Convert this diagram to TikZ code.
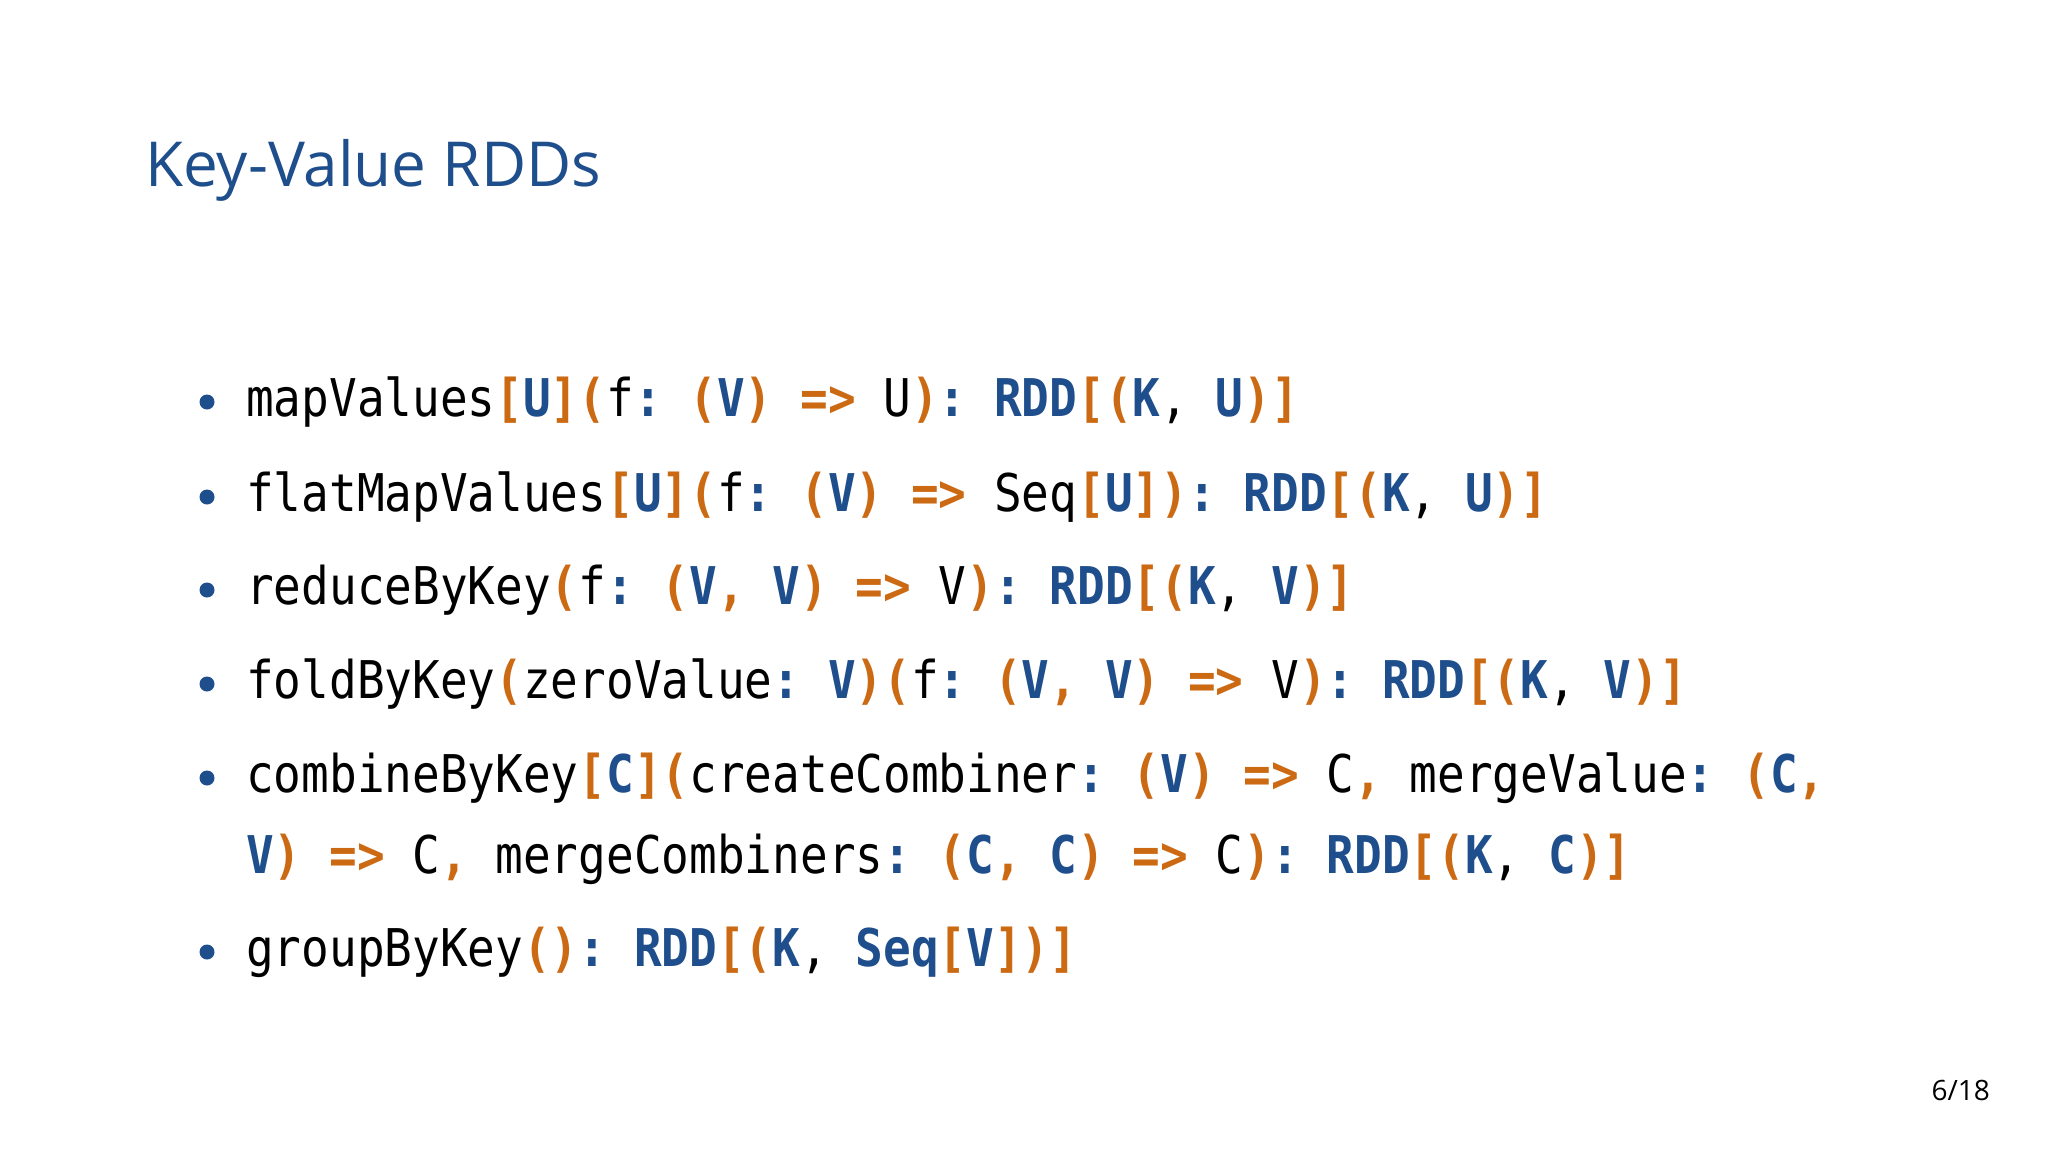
\documentclass[tikz,border=0pt]{standalone}
\usepackage{fontspec}
\setmainfont{Open Sans}
\setmonofont[FakeStretch=0.885]{DejaVu Sans Mono}
\definecolor{tblue}{HTML}{1F4E8C}
\definecolor{torange}{HTML}{CC6A14}
\newcommand{\Or}[1]{\textcolor{torange}{\textbf{#1}}}
\newcommand{\Bl}[1]{\textcolor{tblue}{\textbf{#1}}}
\begin{document}
\begin{tikzpicture}[x=1pt,y=-1pt,
  code/.style={anchor=west,inner sep=0pt,font=\fontsize{52}{60}\selectfont\ttfamily,text=black},
  bul/.style={circle,fill=tblue,inner sep=0pt,minimum size=15pt}]
\useasboundingbox[fill=white] (0,0) rectangle (2048,1152);
\node[anchor=west,inner sep=0pt,text=tblue,font=\fontsize{62}{70}\selectfont] (title) at (145,170) {Key-Value RDDs};
\foreach \n/\y in {1/402,2/497,3/590,4/684,5/778,7/952}{\node[bul] (b\n) at (207,\y) {};}
\node[code] (l1) at (246,402) {mapValues\Or{[}\Bl{U}\Or{](}f\Bl{:} \Or{(}\Bl{V}\Or{)} \Or{=>} U\Or{)}\Bl{:} \Bl{RDD}\Or{[(}\Bl{K}, \Bl{U}\Or{)]}};
\node[code] (l2) at (246,497) {flatMapValues\Or{[}\Bl{U}\Or{](}f\Bl{:} \Or{(}\Bl{V}\Or{)} \Or{=>} Seq\Or{[}\Bl{U}\Or{])}\Bl{:} \Bl{RDD}\Or{[(}\Bl{K}, \Bl{U}\Or{)]}};
\node[code] (l3) at (246,590) {reduceByKey\Or{(}f\Bl{:} \Or{(}\Bl{V}\Or{,} \Bl{V}\Or{)} \Or{=>} V\Or{)}\Bl{:} \Bl{RDD}\Or{[(}\Bl{K}, \Bl{V}\Or{)]}};
\node[code] (l4) at (246,684) {foldByKey\Or{(}zeroValue\Bl{:} \Bl{V}\Or{)(}f\Bl{:} \Or{(}\Bl{V}\Or{,} \Bl{V}\Or{)} \Or{=>} V\Or{)}\Bl{:} \Bl{RDD}\Or{[(}\Bl{K}, \Bl{V}\Or{)]}};
\node[code] (l5) at (246,778) {combineByKey\Or{[}\Bl{C}\Or{](}createCombiner\Bl{:} \Or{(}\Bl{V}\Or{)} \Or{=>} C\Or{,} mergeValue\Bl{:} \Or{(}\Bl{C}\Or{,}};
\node[code] (l6) at (246,859) {\Bl{V}\Or{)} \Or{=>} C\Or{,} mergeCombiners\Bl{:} \Or{(}\Bl{C}\Or{,} \Bl{C}\Or{)} \Or{=>} C\Or{)}\Bl{:} \Bl{RDD}\Or{[(}\Bl{K}, \Bl{C}\Or{)]}};
\node[code] (l7) at (246,952) {groupByKey\Or{()}\Bl{:} \Bl{RDD}\Or{[(}\Bl{K}, \Bl{Seq}\Or{[}\Bl{V}\Or{])]}};
\node[anchor=east,inner sep=0pt,font=\fontsize{28}{32}\selectfont] (page) at (1990,1090) {6/18};
\end{tikzpicture}
\end{document}
